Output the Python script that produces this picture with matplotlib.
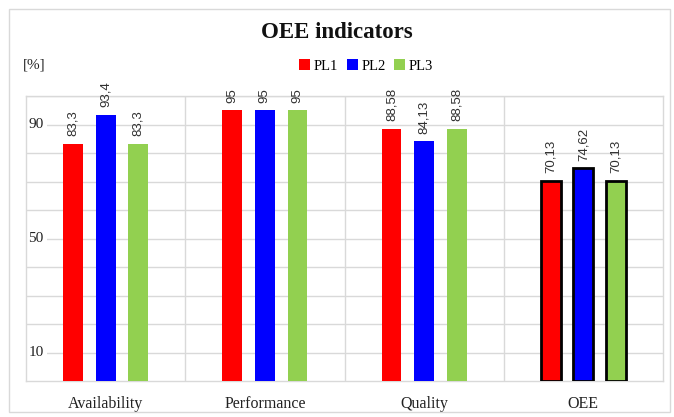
import numpy as np
import matplotlib
matplotlib.use("Agg")
import matplotlib.pyplot as plt
from matplotlib.patches import Rectangle, Patch


# --------- Données ---------
categories = ["Availability", "Performance", "Quality", "OEE"]
series_names = ["PL1", "PL2", "PL3"]
pl1 = [83.3, 95, 88.58, 70.13]
pl2 = [93.4, 95, 84.13, 74.62]
pl3 = [83.3, 95, 88.58, 70.13]
value_labels = [
    ["83,3", "95", "88,58", "70,13"],
    ["93,4", "95", "84,13", "74,62"],
    ["83,3", "95", "88,58", "70,13"],
]
y_labels = [10, 50, 90]

colors = ["#FF0000", "#0000FF", "#92D050"]
SERIF = "Liberation Serif"
GRID = "#d9d9d9"

fig = plt.figure(figsize=(6.74, 4.17), dpi=100)
ax = fig.add_axes([26 / 674, 1 - 381 / 417, 637 / 674, 285 / 417])

# cadre extérieur du graphique
fig.patches.append(Rectangle((9 / 674, 5 / 417), 661 / 674, 403 / 417,
                             transform=fig.transFigure, fill=False,
                             edgecolor="#d9d9d9", linewidth=1))

x = np.arange(len(categories))
width = 0.125
offset = 0.205

for i, vals in enumerate([pl1, pl2, pl3]):
    xs = x + (i - 1) * offset
    for j, (xx, v) in enumerate(zip(xs, vals)):
        last = j == len(categories) - 1
        ax.bar(xx, v, width, color=colors[i],
               edgecolor="black" if last else colors[i],
               linewidth=2 if last else 0, zorder=3)
        ax.annotate(value_labels[i][j], (xx, v), xytext=(0, 5.5),
                    textcoords="offset points", rotation=90,
                    ha="center", va="bottom", fontsize=9.5,
                    family="Liberation Sans", color="#303030")

ax.set_xlim(-0.5, 3.5)
ax.set_ylim(0, 100)

# grille
for g in range(10, 101, 10):
    ax.axhline(g, color=GRID, linewidth=1, zorder=0)
for b in np.arange(0.5, 3.5, 1):
    ax.axvline(b, color=GRID, linewidth=1, zorder=0)

for s in ["top", "right", "left", "bottom"]:
    ax.spines[s].set_color(GRID)
    ax.spines[s].set_linewidth(1)

ax.set_yticks([])
for v in y_labels:
    ax.text(0.004, v, str(v), transform=ax.get_yaxis_transform(),
            ha="left", va="center", fontsize=11, family=SERIF,
            color="#222222", zorder=2,
            bbox=dict(facecolor="white", edgecolor="none", pad=2))

ax.set_xticks(x)
ax.set_xticklabels(categories, fontsize=11.5, family=SERIF, color="#222222")
ax.tick_params(axis="x", length=0, pad=11)

fig.text(0.5, 1 - 33 / 417, "OEE indicators", ha="center", va="center",
         fontsize=16.5, fontweight="bold", family=SERIF, color="#111111")
fig.text(23 / 674, 1 - 65 / 417, "[%]", ha="left", va="center",
         fontsize=11, family=SERIF, color="#222222")

handles = [Patch(facecolor=c, edgecolor="none") for c in colors]
fig.legend(handles, series_names, loc="center", bbox_to_anchor=(366 / 674, 1 - 66 / 417),
           ncol=3, frameon=False, handlelength=0.75, handleheight=0.75,
           handletextpad=0.25, columnspacing=0.6,
           prop={"family": SERIF, "size": 10.5})

fig.savefig("out.png", dpi=100)
